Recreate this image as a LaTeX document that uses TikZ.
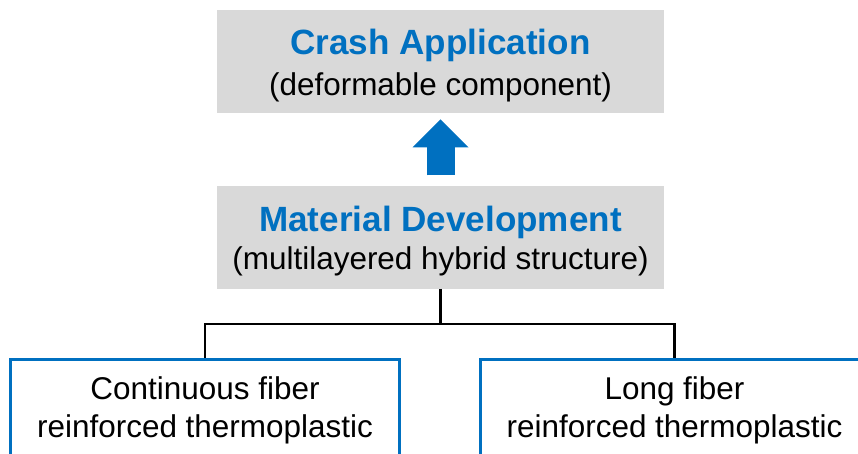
\documentclass[tikz,border=0pt]{standalone}
\usepackage{fontspec}
\setmainfont{Liberation Sans}
\usetikzlibrary{arrows.meta}
\definecolor{appblue}{HTML}{0070C0}
\definecolor{boxgray}{HTML}{D9D9D9}
\newcommand{\headfont}{\fontsize{26.3pt}{30.75pt}\selectfont\bfseries\color{appblue}}
\tikzset{
	graybox/.style={fill=boxgray, minimum width=335.25pt, align=center, inner sep=0pt},
	fiberbox/.style={draw=appblue, line width=2.25pt, minimum width=291.75pt, align=center,
		inner sep=0pt, anchor=north, text height=58.3pt, text depth=20pt,
		font=\fontsize{23.6pt}{28.5pt}\selectfont},
	tree/.style={line width=2pt},
	uparrow/.style={draw=appblue, line width=21pt, -{Triangle[width=42pt,length=21pt,line width=0pt]}}
}

\begin{document}
\begin{tikzpicture}[x=0.75pt, y=0.75pt]
		%%%%% START %%%%%
		\clip (0, 0) rectangle (858, 454);
		
		\node[graybox, text height=64.3pt, text depth=13pt,
			font=\fontsize{23.6pt}{30.75pt}\selectfont] (crash) at (440.5, 392.5)
			{{\headfont Crash Application}\\(deformable component)};
		\node[graybox, text height=63pt, text depth=14.25pt,
			font=\fontsize{23.6pt}{28.5pt}\selectfont] (material) at (440.5, 216.8)
			{{\headfont Material Development}\\(multilayered hybrid structure)};
		
		\draw[uparrow] ([yshift=7.5pt]material.north) -- ([yshift=-4.5pt]crash.south);
		
		\node[fiberbox] (cfrtp) at (205, 95.7) {Continuous fiber\\reinforced thermoplastic};
		\node[fiberbox] (lfrtp) at (674.5, 95.7) {Long fiber\\reinforced thermoplastic};
		
		\draw[tree] (material.south) -- ++(0, -35) coordinate (split);
		\draw[tree] (split) -| (cfrtp.north);
		\draw[tree] (split) -| (lfrtp.north);
		
		%%%%% END %%%%%
	\end{tikzpicture}
\end{document}
